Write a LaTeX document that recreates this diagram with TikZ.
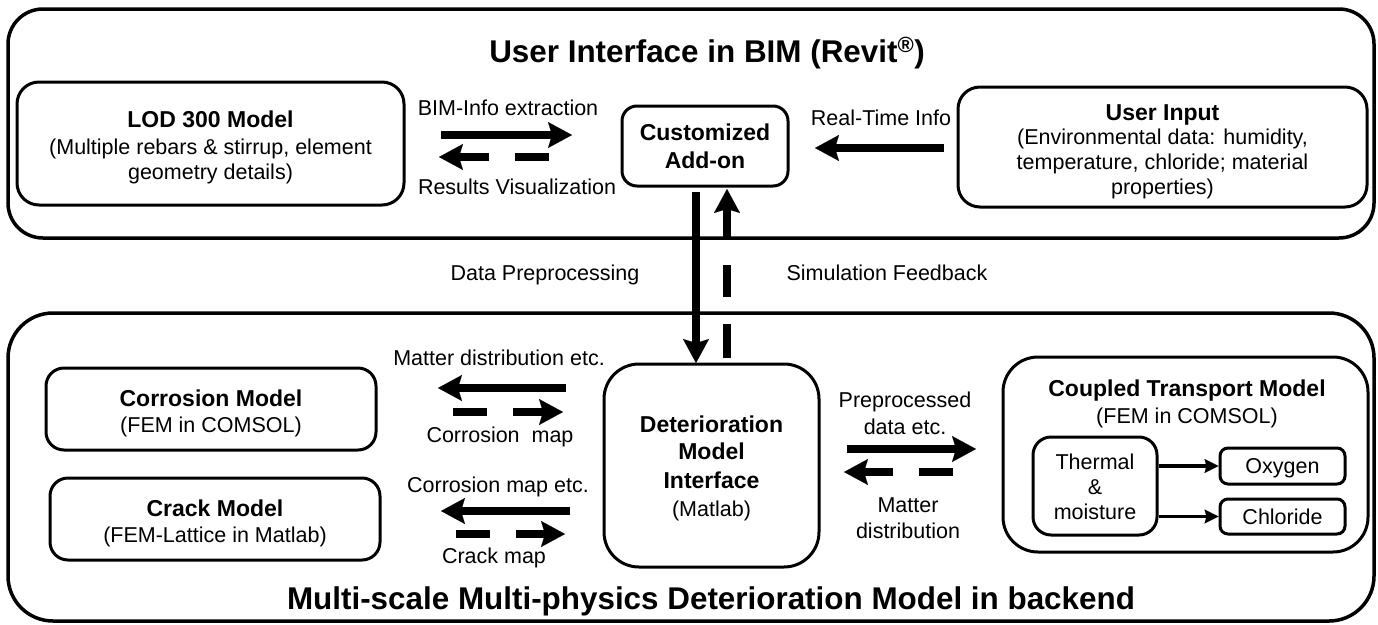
\documentclass[tikz,border=0pt]{standalone}
\usepackage{fontspec}
\setmainfont{Liberation Sans}
\usetikzlibrary{arrows.meta}
\newcommand\myreg{\fontsize{21.5}{25}\selectfont}
\newcommand\mybold{\fontsize{23}{25}\selectfont\bfseries}
\newcommand\mytitle{\fontsize{31.4}{36}\selectfont\bfseries}
\newcommand\tstr[1]{\rule{0pt}{#1pt}}
\newcommand\bstr{\rule[-6pt]{0pt}{6pt}}
\tikzset{
  outerbox/.style={draw, line width=3.5pt, rounded corners=#1, inner sep=0pt},
  modelbox/.style={draw, line width=3pt, rounded corners=#1, inner sep=0pt, align=center, font=\myreg},
  lbl/.style={anchor=base, font=\myreg, inner sep=0pt},
  bigarrow/.style={line width=7.5pt, -{Stealth[length=24pt,width=26pt,inset=4pt,line width=0.1pt]}},
  dasharrow/.style={bigarrow, dash pattern=on 34pt off 26pt on 400pt off 1pt},
  vdasharrow/.style={bigarrow, dash pattern=on 34pt off 27pt on 32pt off 27pt on 400pt off 1pt},
  smallarrow/.style={line width=3.5pt, -{Stealth[length=14pt,width=14pt,inset=2pt,line width=0.1pt]}}
}
\begin{document}
\begin{tikzpicture}[x=1pt,y=-1pt]
\useasboundingbox (0,0) rectangle (1378,624);
% outer frames
\node[outerbox=35, minimum width=1366pt, minimum height=229pt] (ui) at (691,123.5) {};
\node[outerbox=45, minimum width=1366pt, minimum height=308pt] (be) at (691,467) {};
\node[anchor=base, inner sep=0pt] (uititle) at (707,62) {\mytitle User Interface in BIM (Revit\textsuperscript{®})};
\node[anchor=base, inner sep=0pt] (betitle) at (711,609) {\mytitle Multi-scale Multi-physics Deterioration Model in backend};
% top boxes
\node[modelbox=22, minimum width=387pt, minimum height=123pt] (lod) at (210.5,143.5)
  {{\mybold\tstr{25.9}LOD 300 Model}\\[2.5pt](Multiple rebars \& stirrup, element\\geometry details)\bstr};
\node[modelbox=15, minimum width=166pt, minimum height=80pt] (addon) at (705,146)
  {{\mybold\tstr{22.4}Customized}\\[3pt]{\mybold Add-on}\bstr};
\node[modelbox=22, minimum width=409pt, minimum height=120pt] (user) at (1162.5,147)
  {{\mybold\tstr{26.9}User Input}\\[-0.5pt](Environmental data: humidity,\\temperature, chloride; material\\properties)\bstr};
% bottom boxes
\node[modelbox=18, minimum width=330pt, minimum height=82pt] (corr) at (211,409)
  {{\mybold\tstr{26.9}Corrosion Model}\\[1.5pt](FEM in COMSOL)\bstr};
\node[modelbox=18, minimum width=330pt, minimum height=82pt] (crack) at (215,519)
  {{\mybold\tstr{26.9}Crack Model}\\[1.5pt](FEM-Lattice in Matlab)\bstr};
\node[modelbox=35, minimum width=215pt, minimum height=203pt] (det) at (711.5,465.5)
  {{\mybold\tstr{23.9}Deterioration}\\[2pt]{\mybold Model}\\[4pt]{\mybold Interface}\\[3.5pt](Matlab)\bstr};
\node[modelbox=35, minimum width=365pt, minimum height=195pt] (coup) at (1185.5,454.5) {};
\node[anchor=base, inner sep=0pt] (couptitle) at (1187,396) {\mybold Coupled Transport Model};
\node[lbl] (coupsub) at (1187,423) {(FEM in COMSOL)};
\node[modelbox=18, minimum width=124pt, minimum height=98pt] (thermal) at (1095,486)
  {\tstr{23.4}Thermal\\\&\\moisture\bstr};
\node[modelbox=8, minimum width=125pt, minimum height=36pt] (oxygen) at (1282.5,466) {\tstr{21.5}Oxygen\bstr};
\node[modelbox=8, minimum width=125pt, minimum height=35pt] (chloride) at (1282.5,516.5) {\tstr{21.8}Chloride\bstr};
% labels
\node[lbl] (l1) at (508,115) {BIM-Info extraction};
\node[lbl] (l2) at (517,194) {Results Visualization};
\node[lbl] (l3) at (881,125) {Real-Time Info};
\node[lbl] (l4) at (545,280) {Data Preprocessing};
\node[lbl] (l5) at (887,280) {Simulation Feedback};
\node[lbl] (l6) at (499,365) {Matter distribution etc.};
\node[lbl] (l7) at (500,442) {Corrosion\ \ map};
\node[lbl] (l8) at (498,492) {Corrosion map etc.};
\node[lbl] (l9) at (494,563) {Crack map};
\node[lbl] (l10) at (905,407) {Preprocessed};
\node[lbl] (l11) at (905,434) {data etc.};
\node[lbl] (l12) at (908,512) {Matter};
\node[lbl] (l13) at (908,538) {distribution};
% arrow end points
\coordinate (a1s) at (441,135); \coordinate (a1e) at (572,135);
\coordinate (a2s) at (549,157); \coordinate (a2e) at (439,157);
\coordinate (a3s) at (944,148); \coordinate (a3e) at (815,148);
\coordinate (dns) at (696,192); \coordinate (dne) at (696,363);
\coordinate (ups) at (727,358); \coordinate (upe) at (727,189);
\coordinate (a4s) at (566,388); \coordinate (a4e) at (438,388);
\coordinate (a5s) at (453,412); \coordinate (a5e) at (563,412);
\coordinate (a6s) at (570,511); \coordinate (a6e) at (441,511);
\coordinate (a7s) at (456,534); \coordinate (a7e) at (565,534);
\coordinate (a8s) at (847,449); \coordinate (a8e) at (976,449);
\coordinate (a9s) at (953,472); \coordinate (a9e) at (844,472);
% arrows
\draw[bigarrow] (a1s) -- (a1e);
\draw[dasharrow] (a2s) -- (a2e);
\draw[bigarrow] (a3s) -- (a3e);
\draw[bigarrow] (dns) -- (dne);
\draw[vdasharrow] (ups) -- (upe);
\draw[bigarrow] (a4s) -- (a4e);
\draw[dasharrow] (a5s) -- (a5e);
\draw[bigarrow] (a6s) -- (a6e);
\draw[dasharrow] (a7s) -- (a7e);
\draw[bigarrow] (a8s) -- (a8e);
\draw[dasharrow] (a9s) -- (a9e);
\draw[smallarrow] (thermal.east |- oxygen.west) -- (oxygen.west);
\draw[smallarrow] (thermal.east |- chloride.west) -- (chloride.west);
\end{tikzpicture}
\end{document}
